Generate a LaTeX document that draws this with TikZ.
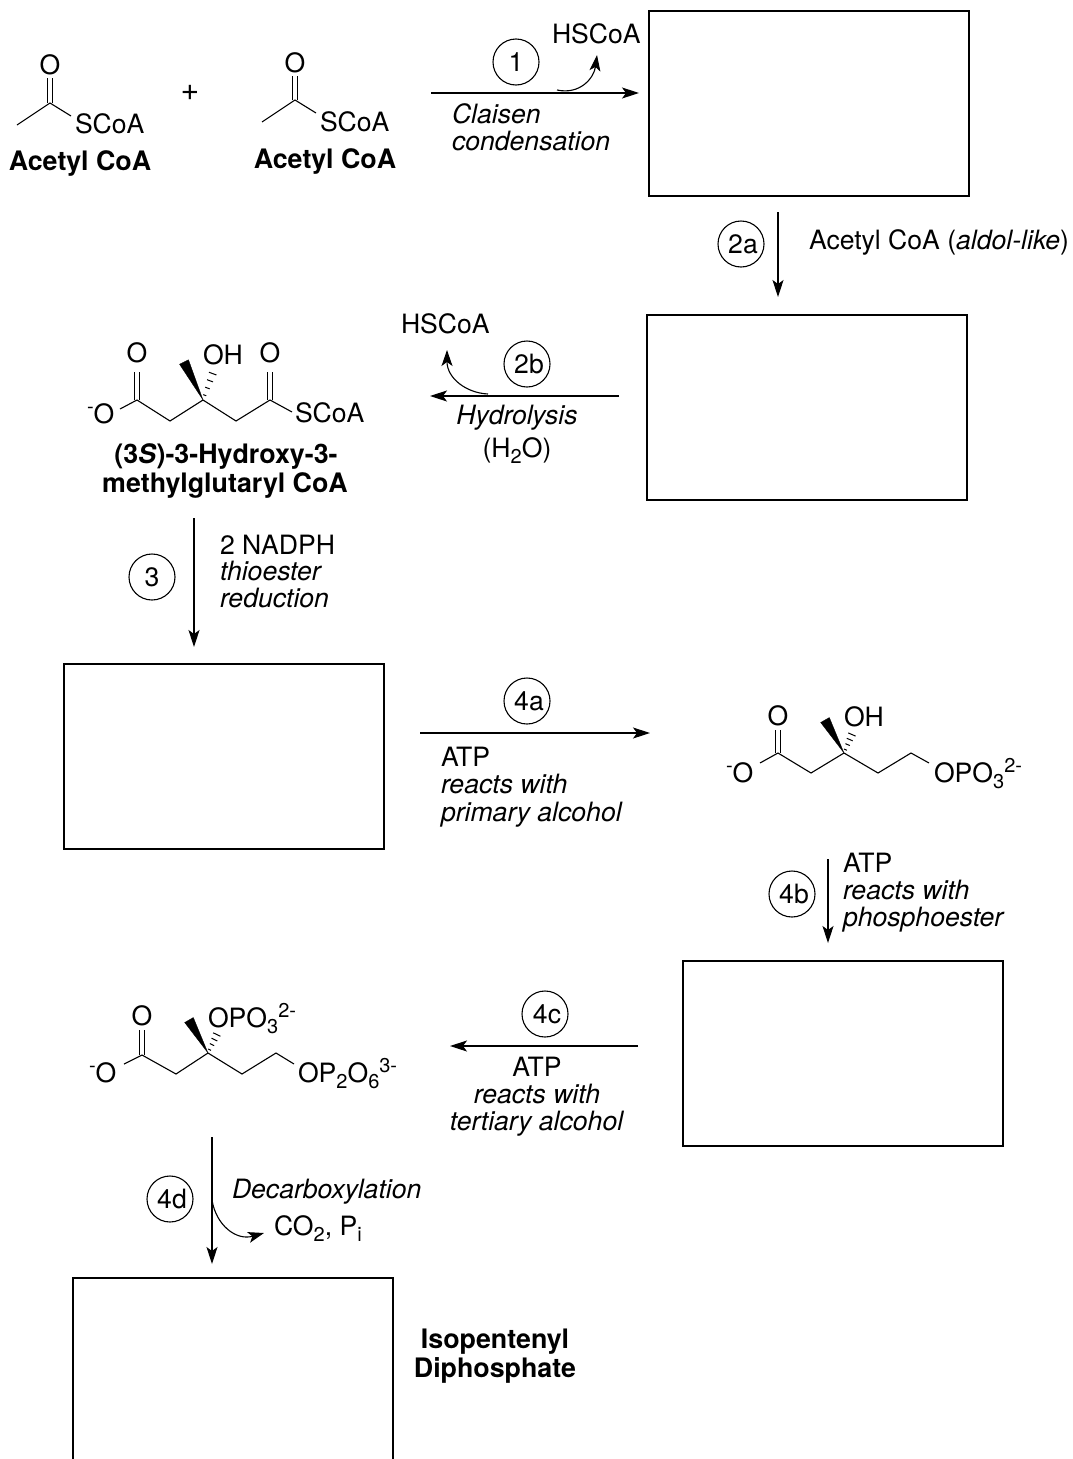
\documentclass[tikz,border=0pt]{standalone}
\usepackage{fontspec}
\setmainfont{TeX Gyre Heros}
\usetikzlibrary{arrows.meta,calc}
\newcommand{\Sbb}[1]{\raisebox{-0.24em}{\fontsize{20}{20}\selectfont #1}}
\newcommand{\Spp}[1]{\raisebox{0.36em}{\fontsize{20}{20}\selectfont #1}}
\newcommand{\nudge}{\hspace{4pt}}
\tikzset{
  x=1pt,y=-1pt,
  lbl/.style={inner sep=0pt,outer sep=0pt,font=\fontsize{26.6}{27}\selectfont,anchor=base west},
  lblc/.style={lbl,anchor=base},
  blbl/.style={lblc,font=\fontsize{26.8}{28.5}\selectfont\bfseries},
  stepnum/.style={draw,circle,line width=1.1pt,inner sep=0pt,minimum size=46pt,font=\fontsize{26.6}{27}\selectfont},
  prodbox/.style={draw,line width=1.2pt},
  rxn/.style={line width=1.1pt,-{Stealth[length=17pt,width=11pt,inset=4pt]}},
  curly/.style={line width=1.1pt,-{Stealth[length=16pt,width=11pt,inset=4pt]}},
  bond/.style={line width=1.1pt},
  wedgeb/.style={fill=black,draw=black,line width=0.3pt},
}
\newcommand{\dbl}[2]{%
  \draw[bond] ($(#1)+(-2.2,0)$) -- ($(#2)+(-2.2,0)$);
  \draw[bond] ($(#1)+(2.2,0)$) -- ($(#2)+(2.2,0)$);}
\newcommand{\wdg}[2]{%
  \fill[wedgeb] (#1) -- ($(#2)!5pt!90:(#1)$) -- ($(#2)!5pt!-90:(#1)$) -- cycle;}
\newcommand{\hsh}[2]{%
  \foreach \t/\w in {0.16/1.6,0.40/2.4,0.64/3.2,0.88/4.0}{
    \draw[line width=1pt] ($(#1)!\t!(#2)!\w pt!90:(#2)$) -- ($(#1)!\t!(#2)!\w pt!-90:(#2)$);}}
\begin{document}
\begin{tikzpicture}
\useasboundingbox (0,0) rectangle (1073,1459);
\clip (0,0) rectangle (1073,1459);
% product boxes
\node[prodbox,minimum width=320pt,minimum height=185pt,inner sep=0pt] (boxA) at (809,103.5) {};
\node[prodbox,minimum width=320pt,minimum height=185pt,inner sep=0pt] (boxB) at (807,407.5) {};
\node[prodbox,minimum width=320pt,minimum height=185pt,inner sep=0pt] (boxC) at (224,756.5) {};
\node[prodbox,minimum width=320pt,minimum height=185pt,inner sep=0pt] (boxD) at (843,1053.5) {};
\node[prodbox,minimum width=320pt,minimum height=200pt,inner sep=0pt] (boxE) at (233,1378) {};

% Acetyl CoA 1
\coordinate (a1m) at (17,125); \coordinate (a1c) at (50,103);
\coordinate (a1o) at (50,78); \coordinate (a1s) at (71,116);
\node[lblc] (a1O) at (50,74) {O};
\node[lbl] (a1S) at (75,133) {SCoA};
\node[blbl] (a1n) at (80,170) {Acetyl CoA};
\draw[bond] (a1m) -- (a1c) -- (a1s);
\dbl{a1c}{a1o}
\node[lblc,font=\fontsize{32}{32}\selectfont] (plus) at (190,100) {+};
% Acetyl CoA 2
\coordinate (a2m) at (262,122); \coordinate (a2c) at (295,100);
\coordinate (a2o) at (295,76); \coordinate (a2s) at (316,113);
\node[lblc] (a2O) at (295,72) {O};
\node[lbl] (a2S) at (320,131) {SCoA};
\node[blbl] (a2n) at (325,168) {Acetyl CoA};
\draw[bond] (a2m) -- (a2c) -- (a2s);
\dbl{a2c}{a2o}

% Step 1
\coordinate (r1s) at (431,93); \coordinate (r1e) at (639,93);
\draw[rxn] (r1s) -- (r1e);
\node[stepnum] (c1) at (516,62) {1};
\node[lbl] (hs1) at (552,43) {HSCoA};
\node[lbl] (cl1) at (452,123) {\textit{Claisen}};
\node[lbl] (cl2) at (452,150) {\textit{condensation}};
\coordinate (k1s) at (557,90); \coordinate (k1e) at (597,55);
\draw[curly] (k1s) .. controls (580,95) and (594,78) .. (k1e);

% Step 2a
\coordinate (r2s) at (778,212); \coordinate (r2e) at (778,297);
\draw[rxn] (r2s) -- (r2e);
\node[stepnum] (c2a) at (741,244) {\nudge 2a};
\node[lbl] (t2a) at (809,249) {Acetyl CoA (\textit{aldol-like})};

% Step 2b
\coordinate (r3s) at (619,396); \coordinate (r3e) at (430,396);
\draw[rxn] (r3s) -- (r3e);
\node[stepnum] (c2b) at (527,364) {\nudge 2b};
\node[lbl] (hs2) at (401,333) {HSCoA};
\coordinate (k2s) at (488,394); \coordinate (k2e) at (447,350);
\draw[curly] (k2s) .. controls (466,393) and (447,378) .. (k2e);
\node[lblc] (hy1) at (517,424) {\textit{Hydrolysis}};
\node[lblc] (hy2) at (517,457) {(H\Sbb{2}O)};

% HMG-CoA
\coordinate (h1) at (137,400); \coordinate (h2) at (170,421); \coordinate (h3) at (203,400);
\coordinate (h4) at (236,421); \coordinate (h5) at (270,400);
\coordinate (hs) at (292,412); \coordinate (ho) at (120,409);
\coordinate (ho1) at (137,372); \coordinate (ho2) at (270,372);
\coordinate (hw) at (184,362); \coordinate (hh) at (214,370);
\node[lblc] (hO1) at (137,362) {O};
\node[lblc] (hO2) at (270,362) {O};
\node[lbl] (hOH) at (203,364) {OH};
\node[lbl] (hSC) at (295,422) {SCoA};
\node[lbl] (hOm) at (87,423) {\Spp{-}O};
\draw[bond] (ho) -- (h1) -- (h2) -- (h3) -- (h4) -- (h5) -- (hs);
\dbl{h1}{ho1}
\dbl{h5}{ho2}
\wdg{h3}{hw}
\hsh{h3}{hh}
\node[blbl] (hn1) at (226,463) {(3\textit{S})-3-Hydroxy-3-};
\node[blbl] (hn2) at (225,492) {methylglutaryl CoA};

% Step 3
\coordinate (r4s) at (194,518); \coordinate (r4e) at (194,647);
\draw[rxn] (r4s) -- (r4e);
\node[stepnum] (c3) at (152,577) {3};
\node[lbl] (t3a) at (220,554) {2 NADPH};
\node[lbl] (t3b) at (220,580) {\textit{thioester}};
\node[lbl] (t3c) at (220,607) {\textit{reduction}};

% Step 4a
\coordinate (r5s) at (420,733); \coordinate (r5e) at (650,733);
\draw[rxn] (r5s) -- (r5e);
\node[stepnum] (c4a) at (527,701) {\nudge 4a};
\node[lbl] (t4a1) at (441,766) {ATP};
\node[lbl] (t4a2) at (441,793) {\textit{reacts with}};
\node[lbl] (t4a3) at (441,821) {\textit{primary alcohol}};

% Mevalonate phosphate
\coordinate (m1) at (778,753); \coordinate (m2) at (811,773); \coordinate (m3) at (844,753);
\coordinate (m4) at (878,773); \coordinate (m5) at (911,753);
\coordinate (mp) at (929,763); \coordinate (mo) at (760,763);
\coordinate (mo1) at (778,730); \coordinate (mw) at (825,720); \coordinate (mh) at (853,732);
\node[lblc] (mO) at (778,725) {O};
\node[lbl] (mOH) at (844,726) {OH};
\node[lbl] (mOm) at (726,782) {\Spp{-}O};
\node[lbl] (mP) at (934,782) {OPO\Sbb{3}\Spp{2-}};
\draw[bond] (mo) -- (m1) -- (m2) -- (m3) -- (m4) -- (m5) -- (mp);
\dbl{m1}{mo1}
\wdg{m3}{mw}
\hsh{m3}{mh}

% Step 4b
\coordinate (r6s) at (828,859); \coordinate (r6e) at (828,943);
\draw[rxn] (r6s) -- (r6e);
\node[stepnum] (c4b) at (792,894) {\nudge 4b};
\node[lbl] (t4b1) at (843,872) {ATP};
\node[lbl] (t4b2) at (843,899) {\textit{reacts with}};
\node[lbl] (t4b3) at (843,926) {\textit{phosphoester}};

% Step 4c
\coordinate (r7s) at (638,1046); \coordinate (r7e) at (450,1046);
\draw[rxn] (r7s) -- (r7e);
\node[stepnum] (c4c) at (545,1014) {\nudge 4c};
\node[lblc] (t4c1) at (537,1076) {ATP};
\node[lblc] (t4c2) at (537,1103) {\textit{reacts with}};
\node[lblc] (t4c3) at (537,1130) {\textit{tertiary alcohol}};

% Diphosphate
\coordinate (d1) at (142,1055); \coordinate (d2) at (176,1074); \coordinate (d3) at (208,1053);
\coordinate (d4) at (242,1074); \coordinate (d5) at (276,1053);
\coordinate (dp) at (294,1064); \coordinate (do) at (124,1064);
\coordinate (do1) at (142,1030); \coordinate (dw) at (189,1020); \coordinate (dh) at (218,1032);
\node[lblc] (dO) at (142,1025) {O};
\node[lbl] (dOP) at (208,1027) {OPO\Sbb{3}\Spp{2-}};
\node[lbl] (dOm) at (89,1082) {\Spp{-}O};
\node[lbl] (dP) at (298,1082) {OP\Sbb{2}O\Sbb{6}\Spp{3-}};
\draw[bond] (do) -- (d1) -- (d2) -- (d3) -- (d4) -- (d5) -- (dp);
\dbl{d1}{do1}
\wdg{d3}{dw}
\hsh{d3}{dh}

% Step 4d
\coordinate (r8s) at (212,1137); \coordinate (r8e) at (212,1264);
\draw[rxn] (r8s) -- (r8e);
\node[stepnum] (c4d) at (170,1199) {\nudge 4d};
\node[lbl] (t4d) at (232,1198) {\textit{Decarboxylation}};
\node[lbl] (co2) at (274,1235) {CO\Sbb{2}, P\Sbb{i}};
\coordinate (k3s) at (212,1200); \coordinate (k3e) at (264,1233);
\draw[curly] (k3s) .. controls (216,1225) and (236,1241) .. (k3e);

% Final label
\node[blbl] (ip1) at (495,1348) {Isopentenyl};
\node[blbl] (ip2) at (495,1377) {Diphosphate};
\end{tikzpicture}
\end{document}
